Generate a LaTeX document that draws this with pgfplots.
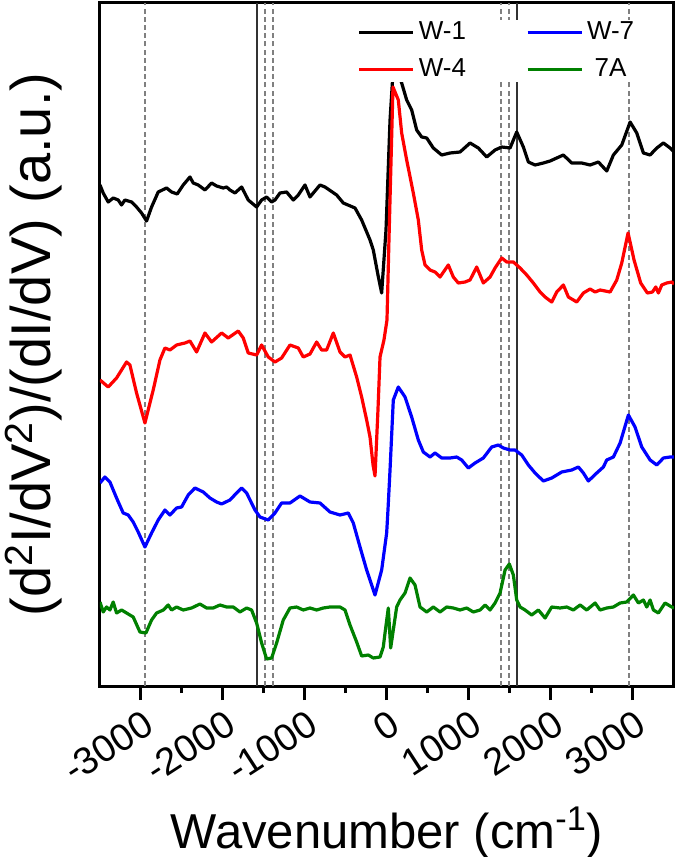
\documentclass[border=0pt]{standalone}
\usepackage{fontspec}
\setmainfont{Liberation Sans}
\usepackage{pgfplots}
\pgfplotsset{compat=1.18}
\definecolor{wgreen}{RGB}{0,128,0}
\definecolor{refgray}{RGB}{128,128,128}
\pgfplotsset{legline/.style={legend image code/.code={\draw[##1,line width=1.5pt] (0pt,0pt) -- (27pt,0pt);}}}
\begin{document}
\begin{tikzpicture}
\begin{axis}[name=ax, scale only axis, width=287pt, height=341.5pt,
  xmin=-3500, xmax=3500, ymin=-26, ymax=657,
  axis line style={line width=1.5pt},
  xtick={-3000,-2000,-1000,0,1000,2000,3000},
  xticklabels={-3000,-2000,-1000,0,1000,2000,3000},
  minor x tick num=1, xtick pos=left, tick align=outside,
  major tick length=7pt, minor tick length=3.5pt,
  xtick style={black,line width=1.5pt},
  ytick=\empty,
  xticklabel style={font=\fontsize{19}{21}\selectfont, rotate=33, anchor=east, inner sep=0pt, xshift=-2pt, yshift=-10.5pt},
  xlabel={Wavenumber (cm\textsuperscript{-1})},
  ylabel={(d\textsuperscript{2}I/dV\textsuperscript{2})/(dI/dV) (a.u.)},
  xlabel style={font=\fontsize{24.5}{28}\selectfont, at={(axis description cs:0.5,-0.238)}, anchor=base},
  ylabel style={font=\fontsize{28}{31}\selectfont, at={(axis description cs:-0.115,0.5)}, anchor=center},
  legend columns=2,
  legend style={at={(axis description cs:0.445,0.976)}, anchor=north west, draw=none, fill=white,
    font=\fontsize{13}{15}\selectfont, inner xsep=1pt, inner ysep=0pt, nodes={inner ysep=1pt}, row sep=6pt,
    /tikz/every even column/.append style={column sep=28pt}},
  every axis plot/.append style={line width=1.6pt, line join=round},
]
% reference lines
\addplot[refgray, line width=1.1pt, dash pattern=on 2.5pt off 1.6pt, forget plot] coordinates {(-2950,-26) (-2950,657)};
\addplot[refgray, line width=1.1pt, dash pattern=on 2.5pt off 1.6pt, forget plot] coordinates {(-1490,-26) (-1490,657)};
\addplot[refgray, line width=1.1pt, dash pattern=on 2.5pt off 1.6pt, forget plot] coordinates {(-1390,-26) (-1390,657)};
\addplot[refgray, line width=1.1pt, dash pattern=on 2.5pt off 1.6pt, forget plot] coordinates {(1390,-26) (1390,657)};
\addplot[refgray, line width=1.1pt, dash pattern=on 2.5pt off 1.6pt, forget plot] coordinates {(1490,-26) (1490,657)};
\addplot[refgray, line width=1.1pt, dash pattern=on 2.5pt off 1.6pt, forget plot] coordinates {(2950,-26) (2950,657)};
\addplot[black!80, line width=1pt, forget plot] coordinates {(-1590,-26) (-1590,657)};
\addplot[black!80, line width=1pt, forget plot] coordinates {(1590,-26) (1590,657)};
% W-1
\addplot[black, forget plot] coordinates {(-3500,475) (-3461,467) (-3400,458) (-3339,462) (-3278,460) (-3237,455) (-3196,460) (-3115,458) (-3054,453) (-2993,447) (-2932,439) (-2871,453) (-2790,468) (-2688,472) (-2627,468) (-2558,466) (-2485,475) (-2403,483) (-2363,477) (-2302,475) (-2220,470) (-2139,477) (-2078,474) (-1997,472) (-1956,473) (-1915,470) (-1854,467) (-1773,473) (-1692,460) (-1590,453) (-1529,460) (-1468,463) (-1407,458) (-1366,460) (-1305,467) (-1224,468) (-1143,460) (-1082,465) (-1000,475) (-939,463) (-817,475) (-756,473) (-614,465) (-533,457) (-390,452) (-309,440) (-207,420) (-167,410) (-110,385) (-65,367) (-12,430) (37,540) (77,592) (118,590) (179,577) (240,560) (301,550) (362,530) (423,523) (484,522) (565,512) (667,505) (769,507) (891,508) (1013,517) (1114,512) (1216,503) (1318,510) (1399,513) (1501,512) (1582,528) (1663,513) (1724,498) (1806,495) (1907,497) (1989,499) (2070,502) (2151,505) (2253,497) (2375,497) (2477,495) (2578,498) (2680,489) (2761,505) (2863,515) (2965,538) (3046,527) (3127,507) (3209,505) (3290,512) (3371,517) (3453,512) (3500,508)};
% W-4
\addplot[red, forget plot] coordinates {(-3500,280) (-3400,273) (-3298,282) (-3176,298) (-3135,295) (-3054,267) (-2952,237) (-2851,270) (-2769,300) (-2708,312) (-2647,310) (-2566,315) (-2464,317) (-2403,319) (-2322,308) (-2220,327) (-2139,318) (-2017,327) (-1936,322) (-1814,329) (-1753,322) (-1692,307) (-1590,305) (-1529,315) (-1448,303) (-1366,298) (-1285,302) (-1183,315) (-1082,312) (-1021,303) (-939,306) (-858,318) (-797,310) (-736,310) (-655,327) (-573,308) (-512,303) (-451,305) (-370,283) (-309,263) (-248,240) (-207,223) (-170,195) (-146,184) (-110,250) (-85,303) (-37,320) (0,340) (24,420) (73,573) (138,560) (179,527) (240,500) (321,467) (382,440) (423,410) (464,395) (525,390) (586,388) (647,383) (748,395) (809,383) (870,377) (952,378) (1013,380) (1094,393) (1175,377) (1257,383) (1318,392) (1399,402) (1460,398) (1541,398) (1623,392) (1704,385) (1785,377) (1867,368) (1928,363) (2009,358) (2070,368) (2151,375) (2212,363) (2314,358) (2395,367) (2477,371) (2538,368) (2599,370) (2721,368) (2802,380) (2863,397) (2940,427) (3013,400) (3094,377) (3176,367) (3237,368) (3278,373) (3310,367) (3351,375) (3412,377) (3473,378) (3500,376)};
% W-7
\addplot[blue, forget plot] coordinates {(-3500,177) (-3440,183) (-3379,178) (-3298,162) (-3217,147) (-3156,145) (-3095,138) (-3034,128) (-2952,113) (-2871,127) (-2790,140) (-2708,150) (-2647,145) (-2566,152) (-2505,153) (-2424,165) (-2342,172) (-2241,168) (-2159,162) (-2078,158) (-2017,156) (-1915,160) (-1834,167) (-1773,172) (-1712,167) (-1610,150) (-1549,143) (-1448,140) (-1366,147) (-1285,157) (-1183,157) (-1061,164) (-939,158) (-817,157) (-695,148) (-573,145) (-472,147) (-411,137) (-329,113) (-248,90) (-146,65) (-65,90) (-4,127) (12,150) (37,190) (77,260) (138,273) (220,263) (301,243) (382,220) (443,208) (525,203) (586,207) (667,202) (769,202) (850,203) (911,200) (992,192) (1074,197) (1175,202) (1277,213) (1358,215) (1419,212) (1501,210) (1562,210) (1643,205) (1724,195) (1806,187) (1907,179) (2009,182) (2131,188) (2253,190) (2334,193) (2395,187) (2456,179) (2558,187) (2639,193) (2680,200) (2761,203) (2843,217) (2944,245) (3025,233) (3107,213) (3209,200) (3290,195) (3371,202) (3453,203) (3500,203)};
% 7A
\addplot[wgreen, forget plot] coordinates {(-3500,58) (-3461,48) (-3420,53) (-3379,50) (-3339,58) (-3298,47) (-3237,50) (-3176,47) (-3095,43) (-3013,28) (-2940,27) (-2871,40) (-2810,47) (-2728,50) (-2668,55) (-2627,50) (-2566,53) (-2485,50) (-2383,52) (-2281,56) (-2200,52) (-2119,52) (-2037,55) (-1956,53) (-1875,53) (-1793,48) (-1712,52) (-1651,50) (-1590,37) (-1529,17) (-1468,1) (-1407,2) (-1346,17) (-1265,40) (-1183,52) (-1102,53) (-1021,50) (-939,52) (-858,50) (-777,52) (-695,53) (-573,53) (-512,50) (-451,35) (-370,18) (-309,4) (-228,5) (-167,2) (-85,3) (-45,13) (-24,27) (16,52) (45,12) (77,30) (118,53) (159,60) (220,67) (281,82) (342,75) (403,53) (484,48) (565,53) (647,48) (728,53) (809,52) (891,50) (972,52) (1053,48) (1135,50) (1196,55) (1257,50) (1318,57) (1379,67) (1440,90) (1492,96) (1541,85) (1582,60) (1623,53) (1684,50) (1765,45) (1846,50) (1928,42) (2009,53) (2111,52) (2192,53) (2273,50) (2355,55) (2436,50) (2538,57) (2599,50) (2680,52) (2761,53) (2843,57) (2924,58) (3005,65) (3066,57) (3127,60) (3168,53) (3209,60) (3249,50) (3310,47) (3391,57) (3473,53) (3500,52)};
\addlegendimage{black,legline}
\addlegendentry{W-1}
\addlegendimage{blue,legline}
\addlegendentry{W-7}
\addlegendimage{red,legline}
\addlegendentry{W-4}
\addlegendimage{wgreen,legline}
\addlegendentry{7A}
\end{axis}
\pgfresetboundingbox
\path[use as bounding box] ([xshift=-50pt,yshift=-85.5pt]ax.south west) rectangle ([xshift=1.5pt,yshift=1.5pt]ax.north east);
\end{tikzpicture}
\end{document}
